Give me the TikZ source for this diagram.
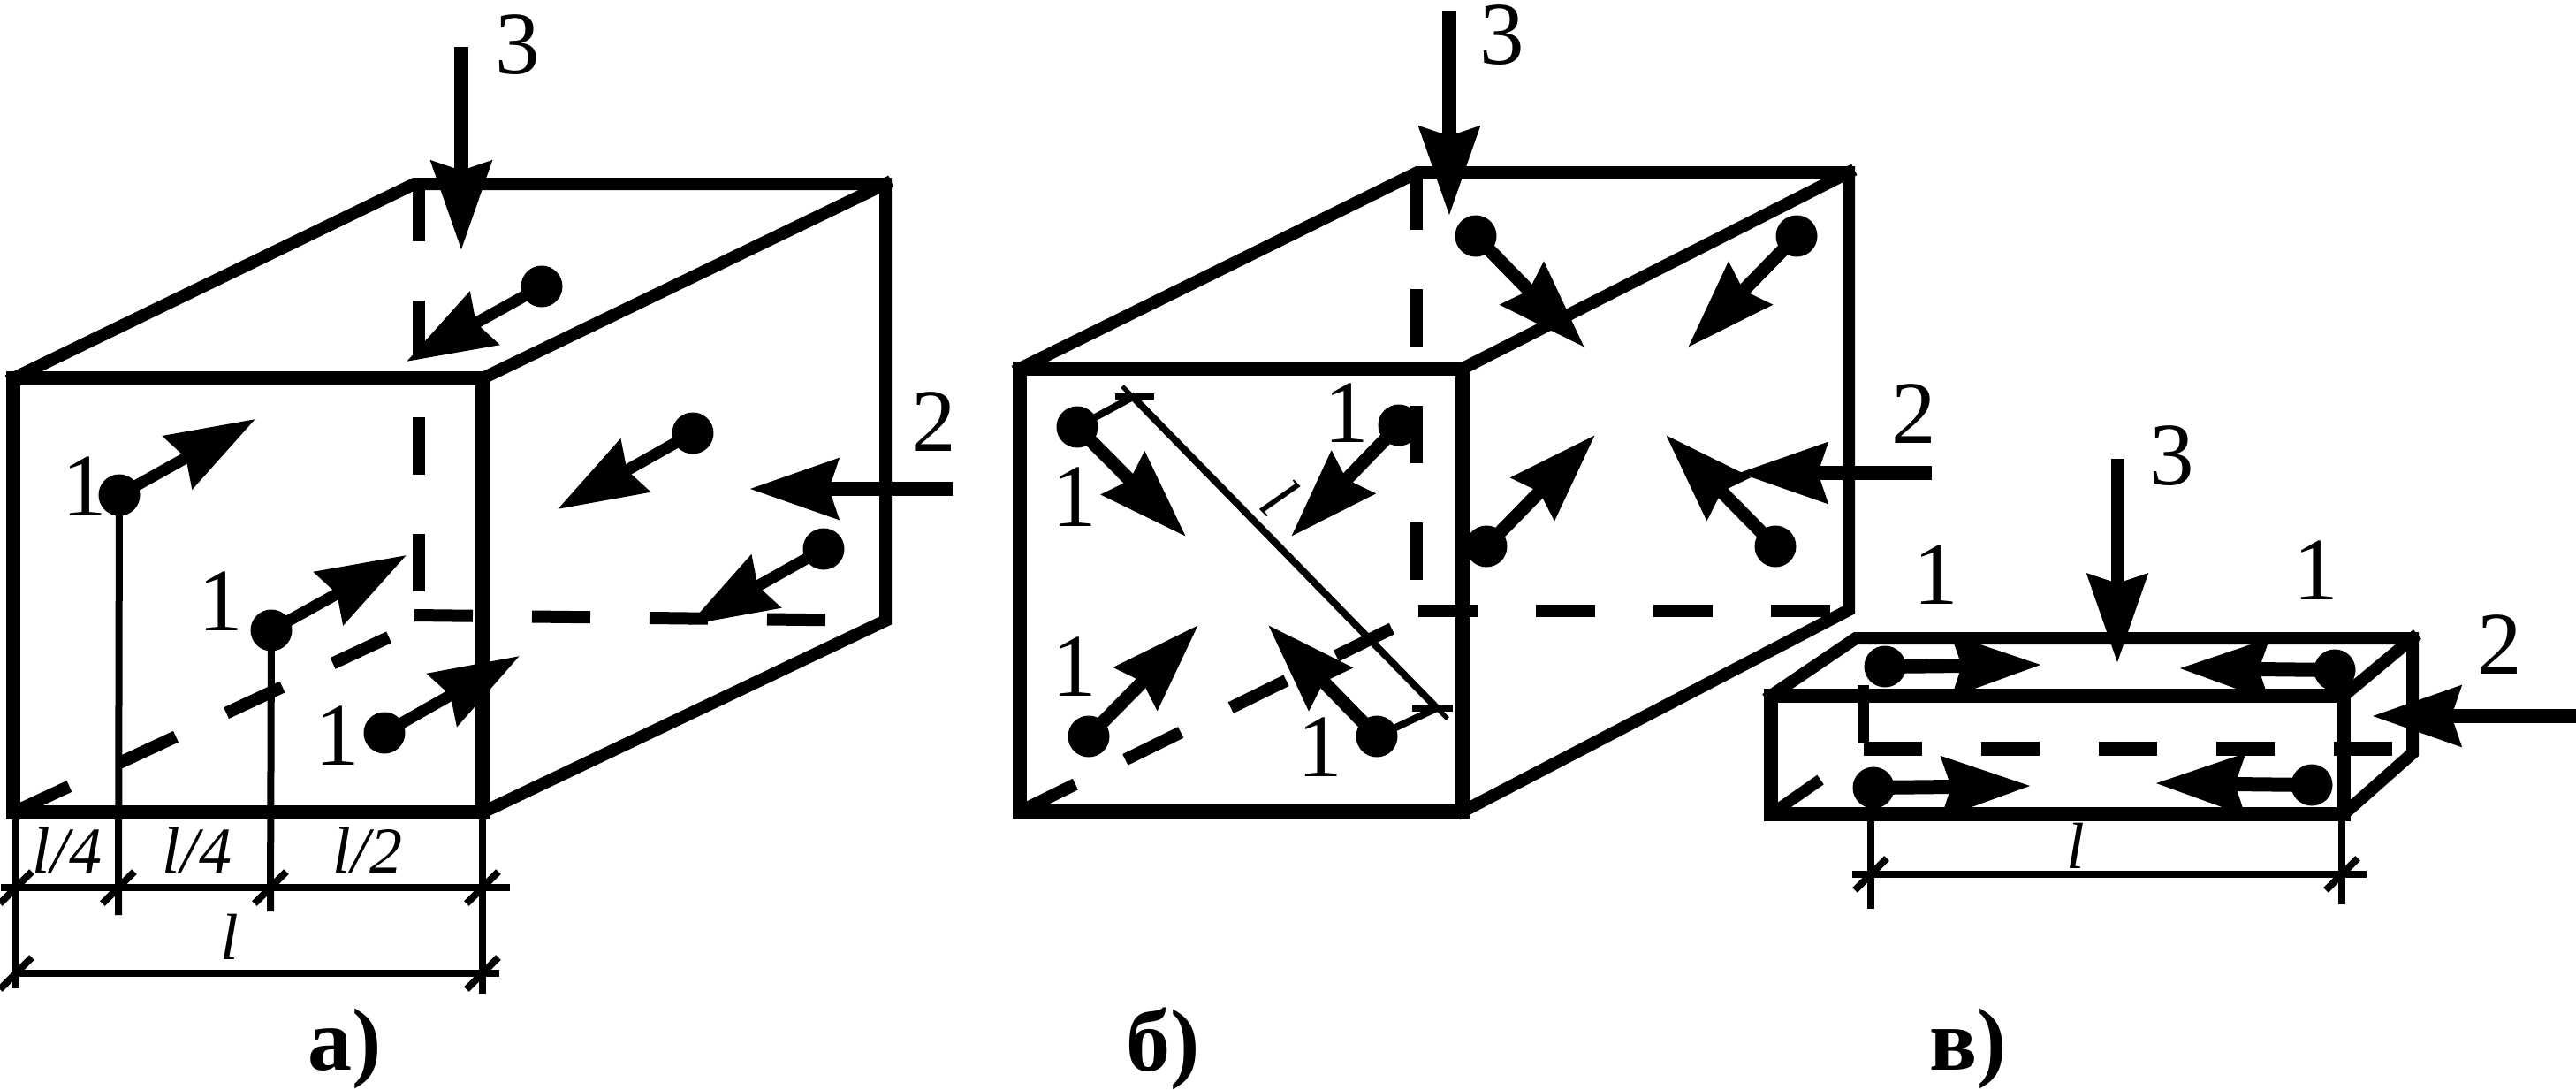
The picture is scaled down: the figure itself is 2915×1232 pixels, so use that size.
\documentclass[tikz,border=0pt]{standalone}
\usepackage{fontspec}
\setmainfont{Liberation Serif}
\usetikzlibrary{arrows.meta}
\tikzset{
  edgeline/.style={line width=#1,line join=miter,line cap=rect},
  hid/.style={line width=14pt,dash pattern=on #1},
  dim/.style={line width=8pt},
  dotn/.style={circle,fill=black,inner sep=0pt,minimum size=47pt},
  bigarrow/.style={line width=#1,-{Stealth[length=100pt,width=67pt,inset=10pt]}},
  num/.style={font=\fontsize{101}{105}\selectfont,inner sep=0pt},
  dimtext/.style={font=\fontsize{74}{78}\selectfont\itshape,inner sep=0pt},
  captext/.style={font=\fontsize{100}{104}\selectfont\bfseries,inner sep=0pt},
}
\newcommand{\dotarrow}[4]{%
  \coordinate (#1t) at (#3);
  \node[dotn] (#1) at (#2) {};
  \draw[bigarrow=#4] (#1.center) -- (#1t);}
\newcommand{\dimtick}[1]{\draw[dim] ([shift={(-18,18)}]#1) -- ([shift={(18,-18)}]#1);}
\begin{document}
\begin{tikzpicture}[x=1pt,y=-1pt]
\useasboundingbox (0,0) rectangle (2915,1232);
% ---------- panel a ----------
\coordinate (aFTL) at (15,428); \coordinate (aFTR) at (546,428);
\coordinate (aFBL) at (15,919); \coordinate (aFBR) at (546,919);
\coordinate (aBTL) at (469,208); \coordinate (aBTR) at (1002,208);
\coordinate (aBBR) at (1002,702);
\coordinate (aHV) at (474,208); \coordinate (aHVe) at (474,696);
\coordinate (aHH) at (469,696); \coordinate (aD) at (444,719);
\draw[edgeline=14pt] (aFTL) -- (aBTL) -- (aBTR) -- (aBBR) -- (aFBR);
\draw[edgeline=14pt] (aFTR) -- (aBTR);
\draw[hid={65pt off 67pt}] (aHV) -- (aHVe);
\draw[hid={66pt off 67pt}] (aHH) -- (aBBR);
\draw[hid={70pt off 63pt}] (aFBL) -- (aD);
\draw[edgeline=16pt] (aFTL) rectangle (aFBR);
% dimensions a
\coordinate (aD1) at (18,1118); \coordinate (aD2) at (134,1035);
\coordinate (aD3) at (306,1031); \coordinate (aD4) at (546,1124);
\coordinate (aHa) at (1,1004); \coordinate (aHb) at (577,1004);
\coordinate (aLa) at (18,1101); \coordinate (aLb) at (565,1101);
\coordinate (aT1) at (18,1004); \coordinate (aT2) at (134,1004);
\coordinate (aT3) at (306,1004); \coordinate (aT4) at (546,1004);
\coordinate (aT5) at (18,1101); \coordinate (aT6) at (546,1101);
\draw[dim] (aFBL -| aD1) -- (aD1);
\draw[dim] (aFBR) -- (aD4);
\draw[dim] (aHa) -- (aHb);
\draw[dim] (aLa) -- (aLb);
\foreach \t in {aT1,aT2,aT3,aT4,aT5,aT6} {\dimtick{\t}}
% arrows a
\dotarrow{aA}{135,560}{289,474}{13pt}
\dotarrow{aB}{307,713}{460,628}{13pt}
\dotarrow{aC}{435,829}{588,742}{13pt}
\dotarrow{aE}{613,324}{460,409}{13pt}
\dotarrow{aF}{784,490}{631,576}{13pt}
\dotarrow{aG}{932,621}{779,707}{13pt}
\draw[dim] (aA.center) -- (aD2);
\draw[dim] (aB.center) -- (aD3);
\coordinate (a3s) at (522,53); \coordinate (a3t) at (522,283);
\draw[bigarrow=16pt] (a3s) -- (a3t);
\coordinate (a2s) at (1078,553); \coordinate (a2t) at (848,553);
\draw[bigarrow=16pt] (a2s) -- (a2t);
\node[num] (an3) at (586,51) {3};
\node[num] (an2) at (1057,477) {2};
\node[num] (an1a) at (96,550) {1};
\node[num] (an1b) at (250,680) {1};
\node[num] (an1c) at (382,832) {1};
\node[dimtext] (al1) at (76,962) {l/4};
\node[dimtext] (al2) at (223,962) {l/4};
\node[dimtext] (al3) at (416,962) {l/2};
\node[dimtext] (al4) at (260,1060) {l};
\node[captext] (acap) at (390,1186) {а)};
% ---------- panel b ----------
\coordinate (bFTL) at (1154,417); \coordinate (bFTR) at (1655,417);
\coordinate (bFBL) at (1154,918); \coordinate (bFBR) at (1655,918);
\coordinate (bBTL) at (1604,195); \coordinate (bBTR) at (2092,195);
\coordinate (bBBR) at (2092,690);
\coordinate (bHV) at (1603,195); \coordinate (bHVe) at (1603,660);
\coordinate (bHH) at (1605,691); \coordinate (bHHe) at (2072,691);
\coordinate (bD) at (1575,711);
\draw[edgeline=14pt] (bFTL) -- (bBTL) -- (bBTR) -- (bBBR) -- (bFBR);
\draw[edgeline=14pt] (bFTR) -- (bBTR);
\draw[hid={65pt off 67pt}] (bHV) -- (bHVe);
\draw[hid={67pt off 66pt}] (bHH) -- (bHHe);
\draw[hid={70pt off 63pt}] (bFBL) -- (bD);
\draw[edgeline=16pt] (bFTL) rectangle (bFBR);
\dotarrow{bA}{1670,267}{1793,393}{15pt}
\dotarrow{bB}{2033,267}{1910,393}{15pt}
\dotarrow{bC}{1682,618}{1805,492}{15pt}
\dotarrow{bE}{2009,618}{1885,492}{15pt}
\dotarrow{bF}{1219,483}{1342,607}{15pt}
\dotarrow{bG}{1583,481}{1461,607}{15pt}
\dotarrow{bH}{1232,833}{1356,707}{15pt}
\dotarrow{bI}{1558,833}{1435,707}{15pt}
\coordinate (bL1) at (1282,449); \coordinate (bL2) at (1626,801);
\draw[dim] (bF.center) -- (bL1) -- (bL2) -- (bI.center);
\draw[dim] ([xshift=-20pt]bL1) -- ([xshift=24pt]bL1);
\draw[dim] ([xshift=-28pt]bL2) -- ([xshift=18pt]bL2);
\draw[line width=5pt] ([shift={(-12,-12)}]bL1) -- ([shift={(12,12)}]bL1);
\draw[line width=5pt] ([shift={(-12,-12)}]bL2) -- ([shift={(12,12)}]bL2);
\coordinate (b3s) at (1640,13); \coordinate (b3t) at (1640,244);
\draw[bigarrow=16pt] (b3s) -- (b3t);
\coordinate (b2s) at (2186,535); \coordinate (b2t) at (1967,535);
\draw[bigarrow=16pt] (b2s) -- (b2t);
\node[num] (bn3) at (1700,40) {3};
\node[num] (bn2) at (2166,468) {2};
\node[num] (bn1a) at (1524,467) {1};
\node[num] (bn1b) at (1216,562) {1};
\node[num] (bn1c) at (1216,754) {1};
\node[num] (bn1d) at (1494,845) {1};
\node[dimtext,rotate=-45] (bl) at (1448,563) {l};
\node[captext] (bcap) at (1316,1186) {б)};
% ---------- panel c ----------
\coordinate (cFTL) at (2004,787); \coordinate (cFTR) at (2652,787);
\coordinate (cFBL) at (2004,921); \coordinate (cFBR) at (2652,921);
\coordinate (cBTL) at (2100,722); \coordinate (cBTR) at (2730,722);
\coordinate (cBBR) at (2730,852);
\coordinate (cHV) at (2108,775); \coordinate (cHVe) at (2108,841);
\coordinate (cHH) at (2109,847); \coordinate (cHHe) at (2708,847);
\coordinate (cD) at (2060,882);
\draw[edgeline=14pt] (cFTL) -- (cBTL) -- (cBTR) -- (cBBR) -- (cFBR);
\draw[edgeline=14pt] (cFTR) -- (cBTR);
\draw[line width=13pt] (cHV) -- (cHVe);
\draw[line width=16pt,dash pattern=on 66pt off 67pt] (cHH) -- (cHHe);
\draw[line width=13pt] (cFBL) -- (cD);
\draw[edgeline=16pt] (cFTL) rectangle (cFBR);
\dotarrow{cA}{2133,754}{2310,752}{16pt}
\dotarrow{cB}{2642,758}{2466,756}{16pt}
\dotarrow{cC}{2120,891}{2298,889}{16pt}
\dotarrow{cE}{2616,888}{2439,886}{16pt}
\coordinate (cD1) at (2117,1028); \coordinate (cD2) at (2650,1023);
\coordinate (cHa) at (2096,989); \coordinate (cHb) at (2678,989);
\coordinate (cT1) at (2117,989); \coordinate (cT2) at (2650,989);
\draw[dim] (cFBL -| cD1) -- (cD1);
\draw[dim] (cFBR -| cD2) -- (cD2);
\draw[dim] (cHa) -- (cHb);
\foreach \t in {cT1,cT2} {\dimtick{\t}}
\coordinate (c3s) at (2396,519); \coordinate (c3t) at (2396,750);
\draw[bigarrow=15pt] (c3s) -- (c3t);
\coordinate (c2s) at (2915,810); \coordinate (c2t) at (2684,810);
\draw[bigarrow=16pt] (c2s) -- (c2t);
\node[num] (cn3) at (2458,516) {3};
\node[num] (cn2) at (2829,729) {2};
\node[num] (cn1a) at (2191,650) {1};
\node[num] (cn1b) at (2621,645) {1};
\node[dimtext] (cl) at (2349,957) {l};
\node[captext] (ccap) at (2227,1186) {в)};
\end{tikzpicture}
\end{document}
